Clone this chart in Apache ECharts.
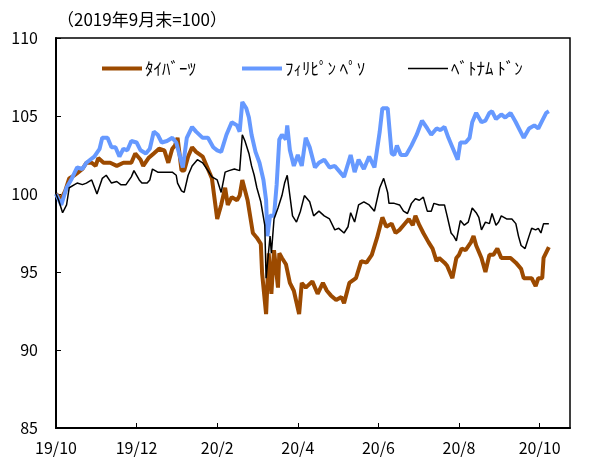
<!DOCTYPE html>
<html>
<head>
<meta charset="utf-8">
<script src="https://cdn.jsdelivr.net/npm/echarts@6/dist/echarts.min.js"></script>
<style>
  html, body { margin: 0; padding: 0; background: #fff; }
  #chart { width: 593px; height: 459px; }
</style>
</head>
<body>
<div id="chart"></div>
<script>
// x = days since 2019-10-01 (end of Sep 2019 = 100)
const xLabels = ['19/10', '19/12', '20/2', '20/4', '20/6', '20/8', '20/10']
const seriesNames = ['ﾀｲﾊﾞｰﾂ', 'ﾌｨﾘﾋﾟﾝ ﾍﾟｿ', 'ﾍﾞﾄﾅﾑ ﾄﾞﾝ']

const thbDays = [0, 4, 7, 10, 14, 17, 20, 23, 27, 30, 32, 36, 41, 46, 51, 57, 60, 64, 66, 70, 74, 78, 82, 85, 88, 90, 92, 95, 97, 100,
  103, 106, 111, 115, 118, 120, 122, 125, 128, 130, 133, 137, 139, 141, 145, 149, 152, 155, 156, 159, 161, 163, 165, 168, 169, 171, 174, 177, 180, 184,
  186, 189, 194, 198, 202, 205, 208, 212, 216, 218, 222, 227, 231, 235, 239, 243, 247, 250, 254, 257, 260, 263, 267, 270, 272, 275, 278, 282, 285, 288,
  290, 294, 296, 300, 303, 305, 307, 310, 314, 316, 318, 322, 325, 328, 331, 334, 337, 340, 344, 348, 352, 354, 357, 360, 363, 365, 368, 369, 373]
const thbVals = [100.0, 99.7, 100.2, 101.0, 101.2, 101.4, 101.6, 102.0, 102.0, 101.8, 102.3, 102.0, 102.0, 101.8, 102.0, 102.0, 102.6, 102.2, 101.8, 102.3, 102.6, 102.9, 102.8, 102.0, 102.9, 103.1, 103.6, 101.5, 101.5, 102.4,
  103.0, 102.7, 102.4, 101.6, 101.0, 99.7, 98.4, 99.3, 100.4, 99.3, 99.8, 99.6, 99.9, 100.9, 99.6, 97.5, 97.2, 96.8, 94.9, 92.3, 96.2, 93.6, 96.4, 94.0, 96.2, 95.9, 95.5, 94.3, 93.8, 92.3,
  94.3, 94.0, 94.4, 93.6, 94.3, 93.8, 93.5, 93.2, 93.4, 93.0, 94.3, 94.6, 95.7, 95.6, 96.1, 97.2, 98.5, 97.9, 98.1, 97.5, 97.7, 98.0, 98.4, 98.0, 98.6, 98.0, 97.5, 96.9, 96.5, 95.7,
  95.9, 95.6, 95.4, 94.6, 95.9, 96.1, 96.5, 96.4, 96.9, 97.3, 96.7, 95.9, 95.0, 96.1, 96.1, 96.5, 95.9, 95.9, 95.9, 95.6, 95.2, 94.6, 94.6, 94.6, 94.1, 94.6, 94.6, 95.9, 96.6]

const phpDays = [0, 4, 8, 12, 16, 20, 23, 29, 33, 35, 39, 42, 45, 48, 51, 54, 57, 61, 64, 68, 71, 74, 77, 80, 84, 88, 91, 95, 96, 99,
  103, 106, 111, 115, 119, 122, 125, 129, 133, 137, 139, 141, 144, 146, 148, 151, 154, 157, 159, 160, 162, 165, 167, 169, 171, 174, 175, 177, 180, 183,
  186, 189, 192, 196, 199, 203, 207, 211, 214, 218, 223, 226, 229, 233, 237, 241, 245, 247, 251, 254, 256, 258, 261, 265, 269, 273, 277, 281, 284, 288,
  291, 294, 297, 300, 302, 304, 306, 310, 313, 315, 318, 322, 325, 328, 330, 333, 337, 340, 344, 348, 351, 354, 358, 362, 365, 368, 371, 373]
const phpVals = [100.0, 99.3, 100.4, 101.0, 101.7, 101.6, 102.0, 102.4, 102.9, 103.6, 103.6, 103.0, 103.0, 102.4, 102.9, 102.8, 103.4, 103.3, 102.8, 102.6, 102.9, 104.0, 103.8, 103.3, 103.4, 103.6, 103.3, 102.0, 101.7, 103.6,
  104.3, 104.0, 103.6, 103.6, 103.0, 102.8, 102.7, 103.8, 104.6, 104.4, 104.0, 105.9, 105.5, 104.9, 103.8, 102.7, 102.0, 100.9, 99.6, 97.3, 98.6, 98.6, 100.6, 103.5, 103.8, 103.5, 104.4, 102.8, 101.8, 102.5,
  101.8, 103.6, 103.0, 101.7, 102.0, 102.2, 101.7, 101.8, 101.5, 101.1, 102.5, 101.4, 102.2, 101.6, 102.4, 101.7, 104.0, 105.5, 105.5, 102.6, 102.5, 103.1, 102.5, 102.5, 103.1, 103.8, 104.7, 104.2, 103.8, 104.2,
  104.1, 104.3, 103.6, 103.0, 102.6, 102.2, 103.3, 103.3, 103.6, 104.6, 105.2, 104.6, 104.7, 105.2, 105.3, 104.8, 105.1, 104.9, 105.2, 104.6, 104.1, 103.6, 104.2, 104.4, 104.2, 104.7, 105.2, 105.3]

const vndDays = [0, 2, 5, 8, 10, 14, 16, 20, 23, 27, 31, 35, 38, 42, 46, 49, 53, 57, 59, 63, 65, 69, 71, 73, 77, 82, 88, 91, 92, 95,
  97, 100, 103, 107, 111, 115, 118, 122, 125, 128, 131, 135, 139, 141, 143, 146, 148, 150, 152, 155, 158, 159, 162, 163, 165, 168, 171, 173, 175, 177,
  179, 182, 185, 188, 192, 195, 199, 203, 207, 211, 214, 218, 221, 223, 226, 229, 233, 237, 241, 245, 248, 251, 252, 256, 260, 263, 266, 269, 272, 275,
  278, 281, 284, 286, 290, 294, 296, 299, 301, 303, 306, 309, 312, 315, 318, 320, 322, 325, 328, 330, 333, 335, 337, 341, 345, 348, 350, 352, 355, 358,
  360, 363, 365, 367, 369, 373]
const vndVals = [100.0, 99.6, 98.8, 99.3, 100.4, 100.6, 100.7, 100.6, 100.7, 100.9, 100.0, 101.0, 101.2, 100.7, 100.8, 100.6, 100.6, 101.1, 101.5, 100.9, 100.7, 100.7, 100.9, 101.6, 101.4, 101.4, 101.4, 101.2, 100.7, 100.2,
  100.1, 101.2, 101.8, 102.2, 102.0, 101.5, 101.1, 100.9, 100.1, 101.4, 101.5, 101.6, 101.5, 103.8, 103.4, 102.6, 101.8, 101.2, 100.4, 99.5, 98.0, 94.6, 97.3, 96.2, 98.4, 99.1, 99.9, 100.7, 101.2, 99.9,
  98.6, 98.2, 98.9, 99.9, 99.5, 98.6, 98.9, 98.6, 98.4, 97.7, 97.8, 97.5, 97.9, 98.8, 98.2, 99.3, 99.5, 99.3, 98.9, 100.4, 101.0, 100.1, 99.4, 99.4, 99.3, 98.9, 98.75, 99.4, 99.7, 99.6,
  99.8, 98.9, 98.9, 99.4, 99.3, 99.3, 98.6, 97.5, 97.3, 97.0, 98.3, 98.0, 98.2, 99.1, 98.8, 98.5, 97.7, 98.2, 98.1, 98.75, 98.0, 98.2, 98.6, 98.4, 98.4, 98.1, 97.3, 96.7, 96.5, 97.3,
  97.8, 97.7, 97.8, 97.5, 98.1, 98.1]

const seriesColors = ['#9C4A00', '#6699FF', '#000000']
const seriesWidths = [4, 4, 1.5]

const zip = (xs, ys) => xs.map((x, i) => [x, ys[i]])
const seriesData = [zip(thbDays, thbVals), zip(phpDays, phpVals), zip(vndDays, vndVals)]

const font = '"Noto Sans CJK JP", "Liberation Sans", sans-serif'
const chart = echarts.init(document.getElementById('chart'))

// one legend per series so each sits where the original has it
const legendLefts = [97, 237, 403]
const legendHeights = [4, 4, 1.5]

chart.setOption({
  animation: false,
  title: {
    text: '（2019年9月末=100）',
    left: 52,
    top: 6,
    textStyle: { fontSize: 17, fontWeight: 'normal', color: '#000', fontFamily: font }
  },
  legend: seriesNames.map((name, i) => ({
    data: [name],
    left: legendLefts[i],
    top: 55,
    icon: 'rect',
    itemWidth: 40,
    itemHeight: legendHeights[i],
    itemGap: 0,
    textStyle: { fontSize: 17, color: '#000', fontFamily: font, padding: [0, 0, 0, -2] }
  })),
  grid: {
    left: 56,
    right: 23,
    top: 38,
    bottom: 31,
    show: true,
    borderColor: '#000',
    borderWidth: 1.5
  },
  xAxis: {
    type: 'value',
    min: 0,
    max: 389,
    interval: 61,
    axisLine: { lineStyle: { color: '#000', width: 2 } },
    axisTick: { inside: true, length: 5, lineStyle: { color: '#000' } },
    splitLine: { show: false },
    axisLabel: {
      margin: 12,
      fontSize: 16,
      color: '#000',
      fontFamily: font,
      showMaxLabel: false,
      formatter: v => (v % 61 === 0 ? xLabels[v / 61] || '' : '')
    }
  },
  yAxis: {
    type: 'value',
    min: 85,
    max: 110,
    interval: 5,
    axisLine: { show: true, lineStyle: { color: '#000', width: 2 } },
    axisTick: { show: true, inside: true, length: 5, lineStyle: { color: '#000' } },
    splitLine: { show: false },
    axisLabel: { margin: 18, fontSize: 16, color: '#000', fontFamily: font }
  },
  series: seriesNames.map((name, i) => ({
    name,
    type: 'line',
    data: seriesData[i],
    symbol: 'none',
    lineStyle: { color: seriesColors[i], width: seriesWidths[i] },
    itemStyle: { color: seriesColors[i] }
  }))
})
</script>
</body>
</html>
